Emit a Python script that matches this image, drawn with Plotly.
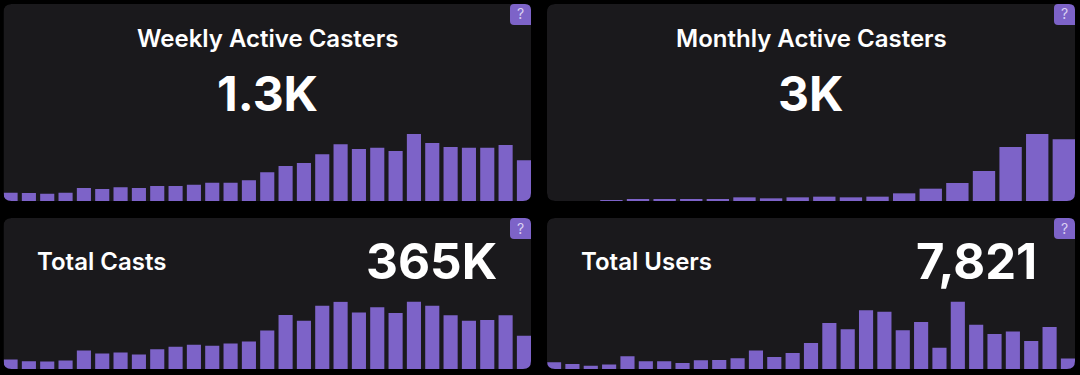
import plotly.graph_objects as go

W, H = 1080, 375
weekly_titles = ["Weekly Active Casters", "Monthly Active Casters", "Total Casts", "Total Users"]
headline_values = ["1.3K", "3K", "365K", "7,821"]

weekly_active = [194,186,170,194,302,279,317,302,348,348,379,426,426,480,666,813,882,1084,1316,1207,1238,1161,1556,1347,1254,1238,1238,1300,944]
monthly_active = [0,0,32,97,97,81,97,178,130,178,211,178,211,373,600,876,1459,2627,3260,3000]
total_casts = [3250,2670,2550,2900,6380,5340,5680,4990,6840,7660,8350,8000,8820,9510,13340,18680,16700,21810,23200,19490,21340,19370,23320,21810,18560,16700,16940,18560,11480]
total_users = [72,54,36,47,137,83,83,65,94,97,115,198,130,173,278,494,426,632,614,415,505,227,725,476,375,404,300,451,112]

BAR = "#7d63c8"
PANEL = "#1a191c"
BG = "#000000"

panels = [
    dict(x0=3.5, x1=531, y0=4, y1=201, top=134, w=0.77, data=weekly_active),
    dict(x0=547, x1=1075, y0=4, y1=201, top=134, w=0.84, data=monthly_active),
    dict(x0=3.5, x1=531, y0=218, y1=369, top=301.5, w=0.77, data=total_casts),
    dict(x0=547, x1=1075, y0=218, y1=369, top=301.5, w=0.77, data=total_users),
]
text_pos = [
    dict(title=(267, 38.5, "center"), value=(267, 93.5, "center"), size=48),
    dict(title=(811, 38.5, "center"), value=(811, 93.5, "center"), size=48),
    dict(title=(34.5, 261, "left"), value=(499, 261, "right"), size=49.5),
    dict(title=(578.5, 261, "left"), value=(1038.5, 261, "right"), size=49),
]

def px(x):
    return x / W
def py(y):
    return 1 - y / H

def rr(x0, y0, x1, y1, r):
    return (f"M{px(x0+r)},{py(y0)} L{px(x1-r)},{py(y0)} Q{px(x1)},{py(y0)} {px(x1)},{py(y0+r)} "
            f"L{px(x1)},{py(y1-r)} Q{px(x1)},{py(y1)} {px(x1-r)},{py(y1)} "
            f"L{px(x0+r)},{py(y1)} Q{px(x0)},{py(y1)} {px(x0)},{py(y1-r)} "
            f"L{px(x0)},{py(y0+r)} Q{px(x0)},{py(y0)} {px(x0+r)},{py(y0)} Z")

fig = go.Figure()
shapes, annotations = [], []
layout = {}
frame = "M0,0 L1,0 L1,1 L0,1 Z "
for i, p in enumerate(panels):
    n = i + 1
    suffix = "" if i == 0 else str(n)
    xs = list(range(len(p["data"])))
    fig.add_trace(go.Bar(x=xs, y=p["data"], width=p["w"], marker=dict(color=BAR, line=dict(width=0)),
                         xaxis=f"x{suffix}", yaxis=f"y{suffix}", showlegend=False, hoverinfo="skip"))
    layout[f"xaxis{suffix}"] = dict(domain=[px(p["x0"]), px(p["x1"])], visible=False, fixedrange=True,
                                    range=[-p["w"]/2, len(xs)-1+p["w"]/2], anchor=f"y{suffix}")
    layout[f"yaxis{suffix}"] = dict(domain=[py(p["y1"]), py(p["top"])], visible=False, fixedrange=True,
                                    range=[0, max(p["data"])], anchor=f"x{suffix}")
    shapes.append(dict(type="path", path=rr(p["x0"], p["y0"], p["x1"], p["y1"], 8), xref="paper", yref="paper",
                       fillcolor=PANEL, line=dict(width=0), layer="below"))
    frame += rr(p["x0"], p["y0"], p["x1"], p["y1"], 8) + " "
    bx0, bx1 = p["x1"] - 21, p["x1"]
    by0, by1 = p["y0"], p["y0"] + 21
    annotations.append(dict(text="?", x=px((bx0+bx1)/2), y=py((by0+by1)/2 - 0.5), xref="paper", yref="paper",
                            showarrow=False, xanchor="center", yanchor="middle",
                            font=dict(family="Inter", size=14, color="#d9d0f2")))
    tx, ty, ta = text_pos[i]["title"]
    annotations.append(dict(text=weekly_titles[i], x=px(tx), y=py(ty), xref="paper", yref="paper", showarrow=False,
                            xanchor=ta, yanchor="middle",
                            font=dict(family="Inter", size=24, color="#ffffff", weight=600)))
    vx, vy, va = text_pos[i]["value"]
    annotations.append(dict(text=headline_values[i], x=px(vx), y=py(vy), xref="paper", yref="paper", showarrow=False,
                            xanchor=va, yanchor="middle",
                            font=dict(family="Inter", size=text_pos[i]["size"], color="#ffffff", weight=700)))

shapes.append(dict(type="path", path=frame, xref="paper", yref="paper", fillcolor=BG, line=dict(width=0),
                   layer="above", fillrule="evenodd"))
for p in panels:
    shapes.append(dict(type="path", xref="paper", yref="paper", fillcolor=BAR, line=dict(width=0), layer="above",
                       path=(f"M{px(p['x1']-17)},{py(p['y0'])} L{px(p['x1']-6)},{py(p['y0'])} "
                             f"Q{px(p['x1'])},{py(p['y0'])} {px(p['x1'])},{py(p['y0']+6)} "
                             f"L{px(p['x1'])},{py(p['y0']+21)} L{px(p['x1']-17)},{py(p['y0']+21)} "
                             f"Q{px(p['x1']-21)},{py(p['y0']+21)} {px(p['x1']-21)},{py(p['y0']+17)} "
                             f"L{px(p['x1']-21)},{py(p['y0']+4)} Q{px(p['x1']-21)},{py(p['y0'])} {px(p['x1']-17)},{py(p['y0'])} Z")))

fig.update_layout(width=W, height=H, margin=dict(l=0, r=0, t=0, b=0), paper_bgcolor=BG, plot_bgcolor="rgba(0,0,0,0)",
                  shapes=shapes, annotations=annotations, barmode="overlay", **layout)
fig.write_html("out.html", config={"displayModeBar": False},
               post_script="document.body.style.margin='0';document.body.style.background='#000';document.body.style.overflow='hidden';")
